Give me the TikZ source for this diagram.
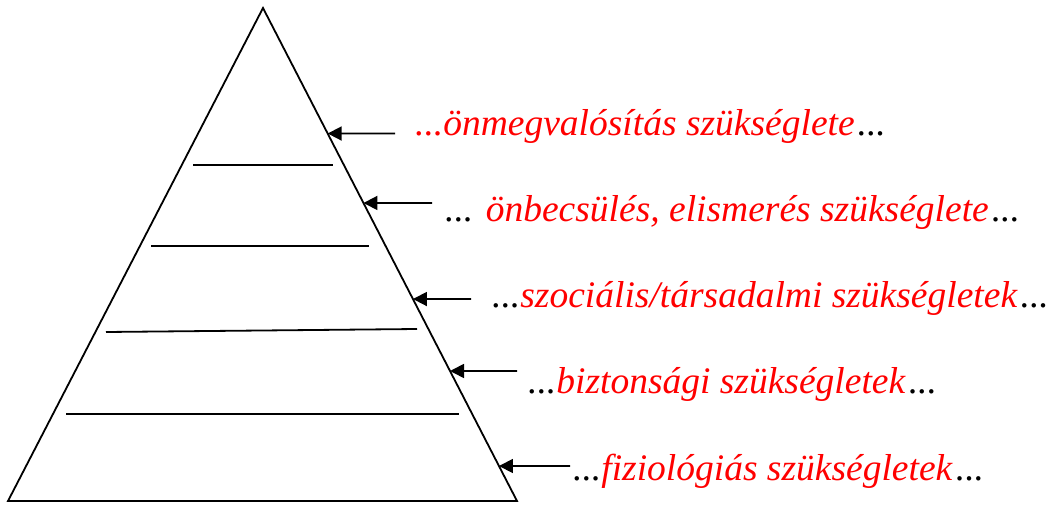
\documentclass[tikz,border=0pt]{standalone}
\usepackage{fontspec}
\setmainfont{Liberation Serif}
\usetikzlibrary{arrows.meta,calc}
\begin{document}
\begin{tikzpicture}[x=1pt,y=-1pt,
  edge/.style={line width=1.8pt,line join=miter},
  level/.style={line width=1.8pt},
  pointer/.style={line width=1.8pt,-{Triangle[length=14pt,width=14pt]}},
  label/.style={anchor=base west,inner sep=0pt,font=\fontsize{37.5}{44}\selectfont\itshape}]
\useasboundingbox (0,0) rectangle (1049,505);
\coordinate (apex) at (263,8);
\coordinate (bl) at (8,501);
\coordinate (br) at (517,501);
\draw[edge] (apex) -- (br) -- (bl) -- cycle;
% level lines
\draw[level] (193,165) -- (333,165);
\draw[level] (151,246) -- (369,246);
\draw[level] (106,332) -- (417,329);
\draw[level] (66,414) -- (459,414);
% arrow tips on the right edge
\coordinate (t1) at ($(apex)!0.2546!(br)$);
\coordinate (t2) at ($(apex)!0.3955!(br)$);
\coordinate (t3) at ($(apex)!0.5903!(br)$);
\coordinate (t4) at ($(apex)!0.7363!(br)$);
\coordinate (t5) at ($(apex)!0.9290!(br)$);
\coordinate (s1) at (395,133.5);
\coordinate (s2) at (432,203);
\coordinate (s3) at (471,299);
\coordinate (s4) at (517,371);
\coordinate (s5) at (570,466);
\draw[pointer] (s1) -- (t1);
\draw[pointer] (s2) -- (t2);
\draw[pointer] (s3) -- (t3);
\draw[pointer] (s4) -- (t4);
\draw[pointer] (s5) -- (t5);
% labels
\node[label] (l1) at (415,136) {\textcolor{red}{...önmegvalósítás szükséglete\/}\kern3pt...};
\node[label] (l2) at (445,222) {... \textcolor{red}{önbecsülés, elismerés szükséglete\/}\kern3pt...};
\node[label] (l3) at (492,307) {...\textcolor{red}{szociális/társadalmi szükségletek\/}\kern3pt...};
\node[label] (l4) at (528,393) {...\textcolor{red}{biztonsági szükségletek\/}\kern3pt...};
\node[label] (l5) at (573,480) {...\textcolor{red}{fiziológiás szükségletek\/}\kern3pt...};
\end{tikzpicture}
\end{document}
